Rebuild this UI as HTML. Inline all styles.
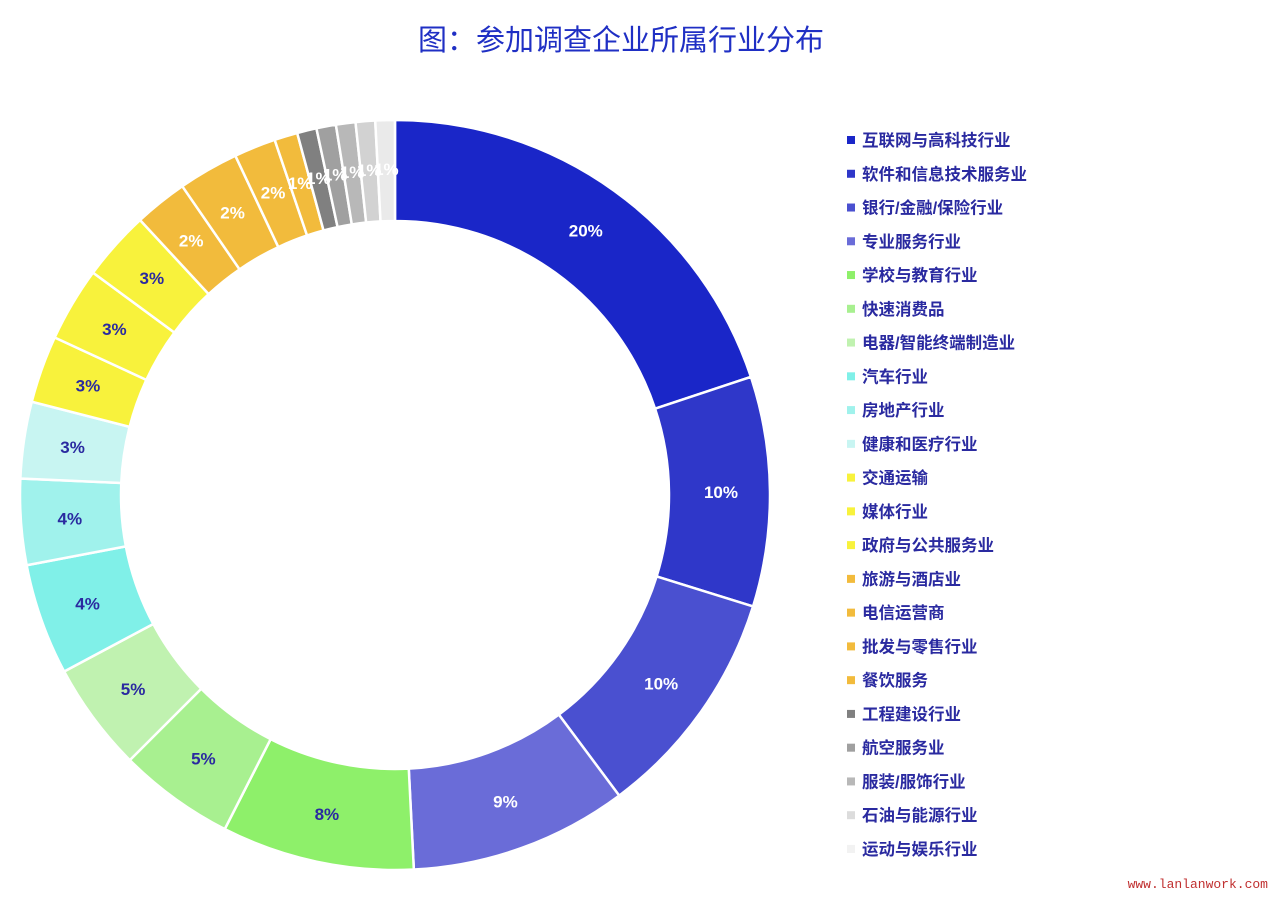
<!DOCTYPE html>
<html><head><meta charset="utf-8"><style>
body{margin:0;background:#fff;width:1272px;height:892px;overflow:hidden;font-family:"Liberation Sans","Noto Sans CJK SC",sans-serif}
</style></head><body>
<svg id="s" width="1272" height="892" xmlns="http://www.w3.org/2000/svg">
<text x="621" y="50" text-anchor="middle" font-size="29" fill="#1f2fc4" font-family="Liberation Sans,Noto Sans CJK SC,sans-serif">图：参加调查企业所属行业分布</text>
<text x="1268" y="888" text-anchor="end" font-size="13" fill="#c03030" font-family="Liberation Mono,monospace">www.lanlanwork.com</text>
</svg>
<script>
var s=document.getElementById('s'),ns='http://www.w3.org/2000/svg';
var cx=395,cy=495,R=375,r=274;
var cum=[0,19.9,29.8,39.8,49.2,57.5,62.5,67.2,72,75.7,79,81.9,85.1,88.1,90.4,93,94.8,95.8,96.64,97.48,98.32,99.16,100];
var cols=['#1a26c8','#2f37c9','#4a50d0','#6a6cd8','#8ef06a','#a8f090','#c0f2b0','#80f0e8','#a0f2ec','#c8f5f2','#f8f23c','#f8f23c','#f8f23c','#f2bb3c','#f2bb3c','#f2bb3c','#f2bb3c','#808080','#a0a0a0','#b8b8b8','#d2d2d2','#eaeaea'];
var labs=['20%','10%','10%','9%','8%','5%','5%','4%','4%','3%','3%','3%','3%','2%','2%','2%','1%','1%','1%','1%','1%','1%'];
var white=[1,1,1,1,0,0,0,0,0,0,0,0,0,1,1,1,1,1,1,1,1,1];
var names=['互联网与高科技行业','软件和信息技术服务业','银行/金融/保险行业','专业服务行业','学校与教育行业','快速消费品','电器/智能终端制造业','汽车行业','房地产行业','健康和医疗行业','交通运输','媒体行业','政府与公共服务业','旅游与酒店业','电信运营商','批发与零售行业','餐饮服务','工程建设行业','航空服务业','服装/服饰行业','石油与能源行业','运动与娱乐行业'];
var lcols=cols.slice();lcols[20]='#dcdcdc';lcols[21]='#f2f2f2';
function P(p,rad){var a=p/100*2*Math.PI;return [cx+rad*Math.sin(a),cy-rad*Math.cos(a)];}
function el(t,a,txt){var e=document.createElementNS(ns,t);for(var k in a)e.setAttribute(k,a[k]);if(txt)e.textContent=txt;s.appendChild(e);return e;}
for(var i=0;i<22;i++){var a=cum[i],b=cum[i+1],l=(b-a)>50?1:0;
var p1=P(a,R),p2=P(b,R),p3=P(b,r),p4=P(a,r);
el('path',{d:'M'+p1+'A'+R+','+R+' 0 '+l+' 1 '+p2+'L'+p3+'A'+r+','+r+' 0 '+l+' 0 '+p4+'Z',fill:cols[i],stroke:'#fff','stroke-width':2.5});}
for(var i=0;i<22;i++){var m=P((cum[i]+cum[i+1])/2,326);
el('text',{x:m[0],y:m[1]+6,'text-anchor':'middle','font-size':17,'font-weight':'bold',fill:white[i]?'#fff':'#2a2aa0'},labs[i]);}
for(var i=0;i<22;i++){var y=140+i*33.76;
el('rect',{x:847,y:y-4,width:8,height:8,fill:lcols[i]});
el('text',{x:862,y:y+6,'font-size':16.5,'font-weight':'bold',fill:'#2a2aa0'},names[i]);}
</script>
</body></html>
